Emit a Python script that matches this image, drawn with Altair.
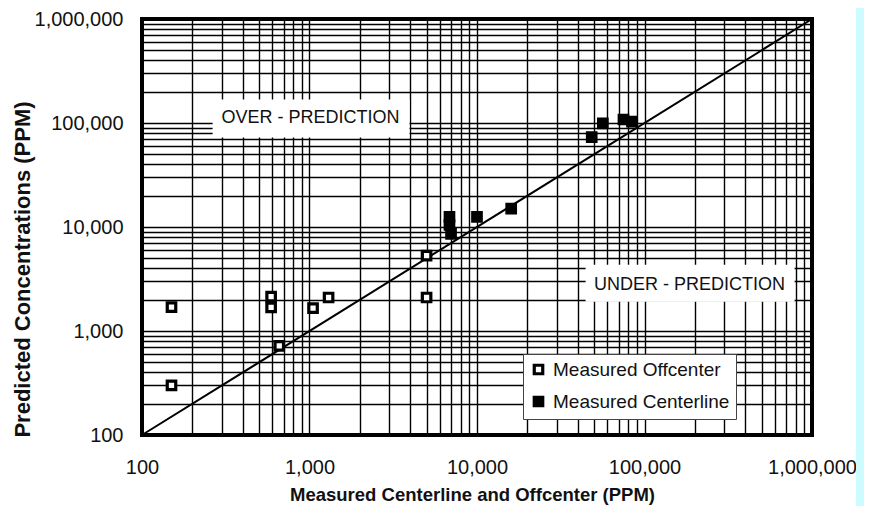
import altair as alt
import pandas as pd

# ---- data ----
off_x = [150, 150, 590, 590, 660, 1050, 1300, 5000, 5000]
off_y = [1700, 300, 2140, 1690, 720, 1660, 2100, 5300, 2100]
cen_x = [6850, 6850, 7000, 10000, 16000, 48400, 56400, 74900, 84200]
cen_y = [12500, 10500, 8600, 12500, 15000, 73000, 99000, 108000, 103300]
series = ["Measured Offcenter", "Measured Centerline"]

decades = [100, 1000, 10000, 100000, 1000000]
decade_labels = ["100", "1,000", "10,000", "100,000", "1,000,000"]
diag = [100, 1000000]

notes = ["OVER - PREDICTION", "UNDER - PREDICTION"]
note_x = [1014, 185800]
note_y = [110500, 2787]
box_x1 = [264, 44500]
box_x2 = [3955, 787000]
box_y1 = [72600, 1914]
box_y2 = [168000, 4325]

FONT = "Liberation Sans"
TXT = "#111111"

grid_vals = [d * k for d in decades[:-1] for k in range(1, 10)] + [decades[-1]]
label_map = "{" + ",".join(f"'{v}':'{l}'" for v, l in zip(decades, decade_labels)) + "}"
label_expr = f"({label_map})[''+datum.value] || ''"

pts = pd.DataFrame({
    "x": off_x + cen_x,
    "y": off_y + cen_y,
    "series": [series[0]] * len(off_x) + [series[1]] * len(cen_x),
})
diag_df = pd.DataFrame({"x": diag, "y": diag})
notes_df = pd.DataFrame({"text": notes, "x": note_x, "y": note_y,
                         "x1": box_x1, "x2": box_x2, "y1": box_y1, "y2": box_y2})

xscale = alt.Scale(type="log", domain=[100, 1000000], nice=False)
yscale = alt.Scale(type="log", domain=[100, 1000000], nice=False)

xaxis = alt.Axis(values=grid_vals, labelExpr=label_expr, grid=True, gridColor="black",
                 gridWidth=1.4, gridOpacity=1, ticks=False, tickSize=0, domain=False,
                 labelFont=FONT, labelFontSize=20, labelColor=TXT, labelPadding=22,
                 labelFlush=False, labelOverlap=False,
                 title="Measured Centerline and Offcenter (PPM)", titleFont=FONT,
                 titleFontSize=18.5, titleFontWeight="bold", titleColor=TXT,
                 titleX=330, titleY=65, titleBaseline="alphabetic", titleAlign="center")
yaxis = alt.Axis(values=grid_vals, labelExpr=label_expr, grid=True, gridColor="black",
                 gridWidth=1.4, gridOpacity=1, ticks=False, tickSize=0, domain=False,
                 labelFont=FONT, labelFontSize=20, labelColor=TXT, labelPadding=19,
                 labelFlush=False, labelOverlap=False,
                 title="Predicted Concentrations (PPM)", titleFont=FONT,
                 titleFontSize=22, titleFontWeight="bold", titleColor=TXT,
                 titleX=-120, titleY=250, titleBaseline="middle", titleAlign="center",
                 titleAngle=270)

X = alt.X("x:Q", scale=xscale, axis=xaxis)
Y = alt.Y("y:Q", scale=yscale, axis=yaxis)

one = pd.DataFrame({"a": [0]})

stripe = alt.Chart(one).mark_rect(color="#ccfcff").encode(
    x=alt.value(714), x2=alt.value(722), y=alt.value(-11), y2=alt.value(487))

line = alt.Chart(diag_df).mark_line(color="black", strokeWidth=2).encode(x=X, y=Y)

boxes = alt.Chart(notes_df).mark_rect(fill="white").encode(
    x=alt.X("x1:Q", scale=xscale, axis=xaxis), x2="x2:Q",
    y=alt.Y("y1:Q", scale=yscale, axis=yaxis), y2="y2:Q")

texts = alt.Chart(notes_df).mark_text(font=FONT, fontSize=18, color=TXT).encode(
    x=X, y=Y, text="text:N")

frame = alt.Chart(one).mark_rect(filled=False, stroke="black", strokeWidth=4).encode(
    x=alt.value(0), x2=alt.value(670), y=alt.value(0), y2=alt.value(416))

points = alt.Chart(pts).mark_square(size=72, stroke="black", strokeWidth=3.2, opacity=1).encode(
    x=X, y=Y,
    fill=alt.Fill("series:N", scale=alt.Scale(domain=series, range=["white", "black"]),
                  legend=alt.Legend(orient="none", legendX=381, legendY=335, title=None,
                                    fillColor="white", strokeColor="#444444", padding=6,
                                    labelFont=FONT, labelFontSize=19, labelColor=TXT,
                                    labelLimit=0,
                                    symbolType="square", symbolSize=72,
                                    symbolStrokeWidth=3.2, symbolStrokeColor="black",
                                    rowPadding=9, labelOffset=5)))

chart = alt.layer(stripe, line, boxes, texts, frame, points).properties(
    width=670, height=416,
    autosize=alt.AutoSizeParams(type="none"),
    padding={"left": 134, "top": 11, "right": 52, "bottom": 71},
    background="white",
).configure_view(stroke="black", strokeWidth=4)

chart.save("out.html", embed_options={"renderer": "svg", "actions": False})
